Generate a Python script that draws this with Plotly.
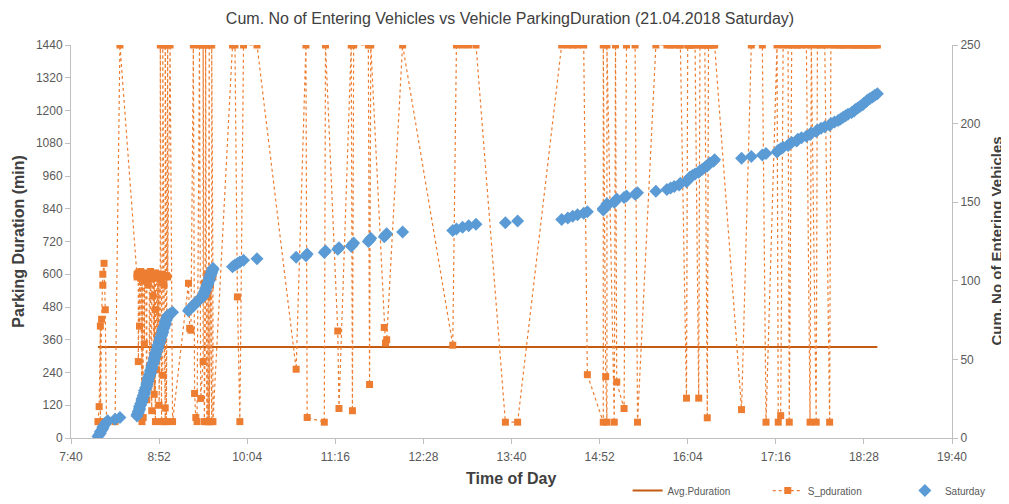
import plotly.graph_objects as go

# ---------------- data ----------------
tick_labels = ["7:40", "8:52", "10:04", "11:16", "12:28", "13:40",
               "14:52", "16:04", "17:16", "18:28", "19:40"]

arrival_time = [
    # 08:00 group
    "8:02", "8:03", "8:04", "8:04", "8:05", "8:06", "8:06", "8:07", "8:08", "8:09",
    "8:10", "8:16", "8:20",
    # 08:34 - 09:03 peak
    "8:34", "8:34", "8:35", "8:35", "8:36", "8:36", "8:36", "8:37", "8:37", "8:38",
    "8:38", "8:38", "8:39", "8:39", "8:40", "8:40", "8:40", "8:41", "8:41", "8:42",
    "8:42", "8:42", "8:43", "8:43", "8:43", "8:44", "8:44", "8:45", "8:45", "8:45",
    "8:46", "8:46", "8:46", "8:47", "8:47", "8:48", "8:48", "8:48", "8:49", "8:49",
    "8:49", "8:50", "8:50", "8:51", "8:51", "8:51", "8:52", "8:52", "8:53", "8:53",
    "8:53", "8:54", "8:54", "8:55", "8:55", "8:55", "8:56", "8:56", "8:57", "8:57",
    "8:57", "8:58", "8:58", "8:59", "8:59", "9:01", "9:03",
    # 09:16 - 09:36
    "9:16", "9:17", "9:18", "9:20", "9:21", "9:22", "9:23", "9:25", "9:26", "9:28",
    "9:28", "9:29", "9:29", "9:30", "9:30", "9:31", "9:31", "9:32", "9:32", "9:33",
    "9:33", "9:33", "9:34", "9:34", "9:35", "9:35", "9:36", "9:36",
    # 09:52 - 10:12
    "9:52", "9:54", "9:56", "9:58", "10:01", "10:12",
    # 10:44 - 12:11
    "10:44", "10:52", "10:53", "11:07", "11:08", "11:18", "11:19", "11:29", "11:30", "11:31",
    "11:43", "11:44", "11:45", "11:56", "11:57", "11:58", "12:11",
    # 12:52 - 16:26
    "12:52", "12:55", "13:00", "13:05", "13:11", "13:35", "13:45", "14:21", "14:26", "14:30",
    "14:34", "14:39", "14:42", "14:55", "14:55", "14:57", "14:58", "14:58", "15:04", "15:05",
    "15:06", "15:12", "15:14", "15:21", "15:23", "15:38", "15:47", "15:50", "15:53", "15:57",
    "15:58", "16:03", "16:04", "16:05", "16:06", "16:08", "16:10", "16:13", "16:14", "16:16",
    "16:18", "16:20", "16:21", "16:22", "16:25", "16:26",
    # 16:48 - 18:39
    "16:48", "16:56", "17:05", "17:08", "17:17", "17:18", "17:20", "17:22", "17:26", "17:27",
    "17:29", "17:33", "17:34", "17:37", "17:41", "17:44", "17:45", "17:49", "17:50", "17:53",
    "17:56", "18:00", "18:01", "18:04", "18:07", "18:09", "18:11", "18:13", "18:15", "18:18",
    "18:20", "18:21", "18:23", "18:25", "18:27", "18:28", "18:30", "18:31", "18:33", "18:35",
    "18:37", "18:39",
]

duration_min = [
    60, 115, 410, 60, 435, 560, 600, 640, 470, 60,
    60, 60, 1440,
    600, 590, 605, 280, 595, 600, 410, 585, 610, 60,
    600, 590, 75, 600, 595, 345, 605, 580, 600, 140,
    590, 600, 560, 595, 570, 600, 240, 610, 590, 600,
    100, 585, 600, 520, 595, 160, 600, 590, 60, 470,
    605, 590, 250, 600, 585, 300, 595, 120, 600, 590,
    1440, 60, 580, 600, 230, 1440, 590, 560, 60, 110,
    1440, 595, 60, 1440, 590, 1440, 60,
    567, 402, 395, 1440, 163, 75, 60, 1440, 145, 280,
    1440, 567, 60, 540, 1440, 60, 600, 520, 60, 1440,
    580, 60, 560, 600, 60, 1440, 590, 60,
    1440, 1440, 517, 60, 1440, 1440,
    252, 1440, 75, 58, 1440, 392, 108, 1440, 100, 1440,
    1440, 196, 1440, 405, 348, 360, 1440,
    340, 1440, 1440, 1440, 1440, 58, 58, 1440, 1440, 1440,
    1440, 1440, 232, 58, 1440, 225, 58, 1440, 58, 1440,
    205, 108, 1440, 1440, 58, 1440, 1440, 1440, 1440, 1440,
    1440, 146, 1440, 1440, 1440, 1440, 1440, 146, 1440, 1440,
    1440, 74, 1440, 1440, 1440, 1440,
    104, 1440, 1440, 58, 1440, 58, 82, 1440, 1440, 58,
    1440, 1440, 1440, 1440, 1440, 58, 1440, 58, 1440, 1440,
    1440, 58, 1440, 1440, 1440, 1440, 1440, 1440, 1440, 1440,
    1440, 1440, 1440, 1440, 1440, 1440, 1440, 1440, 1440, 1440,
    1440, 1440,
]

avg_pduration = 333

assert len(arrival_time) == len(duration_min), (len(arrival_time), len(duration_min))


def to_min(s):
    h, m = s.split(":")
    return int(h) * 60 + int(m)


x_min = [to_min(t) for t in arrival_time]
cum_vehicles = [i + 1 for i in range(len(x_min))]  # cumulative count of entering vehicles
tick_vals = [to_min(t) for t in tick_labels]

FONT = "Liberation Sans, Arial, sans-serif"
ORANGE = "#ED7D31"
BLUE = "#5B9BD5"
AVG = "#C55A11"
AXIS = "#BFBFBF"
TXT = "#595959"
TITLE_C = "#404040"

fig = go.Figure()
fig.add_trace(go.Scatter(
    x=[x_min[0], x_min[-1]], y=[avg_pduration, avg_pduration],
    mode="lines", name="Avg.Pduration", legend="legend",
    line=dict(color=AVG, width=2)))
fig.add_trace(go.Scatter(
    x=x_min, y=duration_min, mode="lines+markers", name="S_pduration", legend="legend2",
    line=dict(color=ORANGE, width=1.2, dash="dot"),
    marker=dict(symbol="square", size=7, color=ORANGE)))
fig.add_trace(go.Scatter(
    x=x_min, y=cum_vehicles, mode="markers", name="Saturday", yaxis="y2", legend="legend3",
    marker=dict(symbol="diamond", size=10, color=BLUE)))

leg_common = dict(orientation="h", xref="container", yref="container", xanchor="left",
                  y=0.027, yanchor="middle", font=dict(size=10, color=TXT),
                  bgcolor="rgba(0,0,0,0)", itemsizing="trace")

axis_common = dict(showgrid=False, zeroline=False, showline=True, linecolor=AXIS,
                   ticks="outside", ticklen=5, tickcolor=AXIS,
                   tickfont=dict(size=12, color=TXT))

# the page body adds an 8px offset, so the figure is 8px smaller than the window
fig.update_layout(
    width=1001, height=496,
    margin=dict(l=63, r=57, t=37, b=66, autoexpand=False),
    paper_bgcolor="white", plot_bgcolor="white",
    font=dict(family=FONT, size=12, color=TXT),
    title=dict(text="Cum. No of Entering Vehicles vs Vehicle ParkingDuration (21.04.2018 Saturday)",
               x=0.5015, xanchor="center", y=0.980, yanchor="middle",
               font=dict(family=FONT, size=16, color=TITLE_C)),
    showlegend=True,
    legend=dict(x=0.619, **leg_common),
    legend2=dict(x=0.759, **leg_common),
    legend3=dict(x=0.896, **leg_common),
    xaxis=dict(range=[460, 1180], tickvals=tick_vals, ticktext=tick_labels,
               ticklabelstandoff=3, **axis_common),
    yaxis=dict(range=[0, 1440], dtick=120, tick0=0, **axis_common),
    yaxis2=dict(range=[0, 250], dtick=50, tick0=0, overlaying="y", side="right",
                **axis_common),
    annotations=[
        dict(text="<b>Time of Day</b>", xref="paper", yref="paper", x=0.5, y=-0.102,
             xanchor="center", yanchor="middle", showarrow=False,
             font=dict(size=16, color=TITLE_C)),
        dict(text="<b>Parking Duration (min)</b>", xref="paper", yref="paper", x=-0.060, y=0.5,
             xanchor="center", yanchor="middle", showarrow=False, textangle=-90,
             font=dict(size=16, color=TITLE_C)),
        dict(text="<b>Cum. No of Entering Vehicles</b>", xref="paper", yref="paper", x=1.050, y=0.5,
             xanchor="center", yanchor="middle", showarrow=False, textangle=-90,
             font=dict(size=15, color=TITLE_C)),
    ],
)

fig.write_html("out.html")
